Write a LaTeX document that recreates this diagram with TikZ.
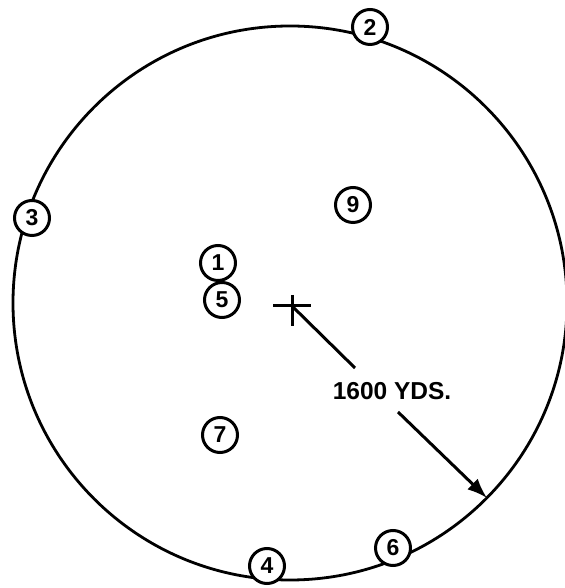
\documentclass[tikz,border=0pt]{standalone}
\usepackage{fontspec}
\setmainfont{Liberation Sans}
\usetikzlibrary{arrows.meta,calc}

\begin{document}
\begin{tikzpicture}[x=1pt,y=1pt,
    stn/.style={circle,draw,line width=3pt,fill=white,minimum size=35pt,inner sep=0pt,
      font=\fontsize{23}{23}\selectfont\bfseries},
    rim/.style={line width=2.8pt},
    lead/.style={line width=3pt}]
\useasboundingbox (0,0) rectangle (564,588);
% cercle de 1600 yds et positions
\coordinate (c) at (290,285);
\draw[rim] (c) circle[radius=277pt];
\node[stn] (n2) at (370,561) {2};
\node[stn] (n3) at (32,370) {3};
\node[stn] (n4) at (267,22) {4};
\node[stn] (n6) at (393,40) {6};
\node[stn] (n9) at (353,383) {9};
\node[stn] (n1) at (218,325) {1};
\node[stn] (n5) at (222,288) {5};
\node[stn] (n7) at (220,153) {7};
\coordinate (ctr) at (292,282);
\draw[lead] ($(ctr)+(-19,0)$) -- ($(ctr)+(19,0)$);
\draw[lead] ($(ctr)+(0,11)$) -- ($(ctr)+(0,-20)$);
\node[font=\fontsize{24.5}{24.5}\selectfont\bfseries,inner sep=0pt] (yds) at (392,197) {1600 YDS.};
\coordinate (ldA) at (355,220);
\coordinate (ldB) at (398,176);
\coordinate (tip) at (487,90);
\draw[lead] (ctr) -- (ldA);
\draw[lead,-{Latex[length=20pt,width=15pt]}] (ldB) -- (tip);
\end{tikzpicture}
\end{document}
